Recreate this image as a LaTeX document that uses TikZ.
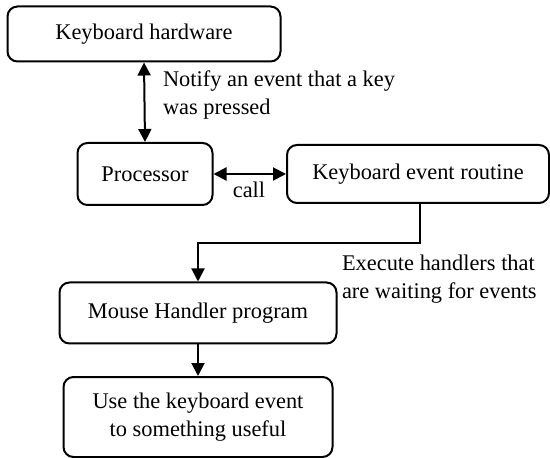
\documentclass[tikz,border=0pt]{standalone}
\usepackage{fontspec}
\setmainfont{Liberation Serif}
\usetikzlibrary{arrows.meta}

\begin{document}
\begin{tikzpicture}[x=0.5pt,y=-0.5pt,
  font=\fontsize{11.2}{14}\selectfont,
  line width=1pt,
  box/.style={draw, rounded corners=5pt, inner sep=0pt, align=center},
  arr/.style={-{Triangle[length=6.5pt,width=6.5pt]}},
  darr/.style={{Triangle[length=6.5pt,width=6.5pt]}-{Triangle[length=6.5pt,width=6.5pt]}}]
  \useasboundingbox (0,0) rectangle (550,458);

  \node[box, minimum width=136.5pt, minimum height=27.5pt] (hw) at (144,34) {Keyboard hardware};
  \node[box, minimum width=67.5pt, minimum height=31pt] (proc) at (145,174) {Processor};
  \node[box, minimum width=131pt, minimum height=29pt] (routine) at (418,174) {Keyboard event routine};
  \node[box, minimum width=138.5pt, minimum height=30.5pt] (mouse) at (198,313) {Mouse Handler program};
  \node[box, minimum width=134.5pt, minimum height=40pt] (use) at (198,417) {Use the keyboard event\\to something useful};

  \coordinate (bend) at (420,243);

  \draw[darr] (hw.south) -- (proc.north);
  \draw[darr] (proc.east) -- (routine.west);
  \draw[arr] (routine.south -| bend) -- (bend) -| (mouse.north);
  \draw[arr] (mouse.south) -- (use.north);

  \node[anchor=west, align=left, inner sep=0pt] (notify) at (162,95) {Notify an event that a key\\was pressed};
  \node[inner sep=0pt] (call) at (249,190) {call};
  \node[anchor=west, align=left, inner sep=0pt] (exec) at (341,279) {Execute handlers that\\are waiting for events};
\end{tikzpicture}
\end{document}
